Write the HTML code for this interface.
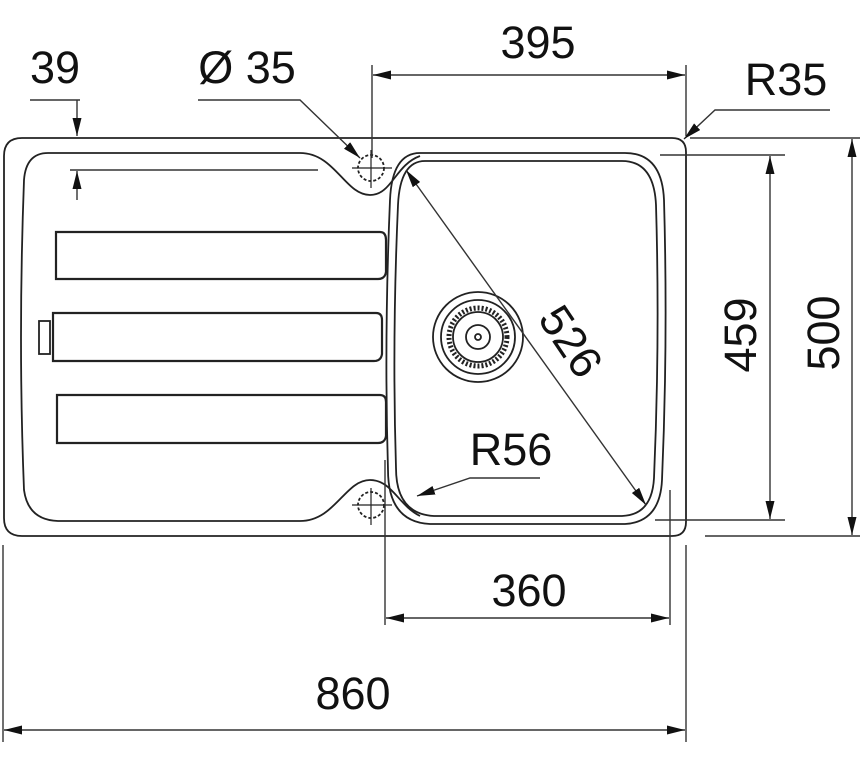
<!DOCTYPE html>
<html><head><meta charset="utf-8"><style>
html,body{margin:0;padding:0;background:#fff;}
svg{display:block;}
text{font-family:"Liberation Sans",Arial,sans-serif;font-size:45px;fill:#111;}
</style></head><body>
<svg width="860" height="759" viewBox="0 0 860 759" xmlns="http://www.w3.org/2000/svg">
<defs>
<marker id="a" viewBox="0 0 18 9" refX="18" refY="4.5" markerWidth="18" markerHeight="9" orient="auto-start-reverse" markerUnits="userSpaceOnUse"><path d="M0,0 L18,4.5 L0,9 z" fill="#111"/></marker>
</defs>
<g fill="none" stroke="#222" stroke-width="1.8">
<path d="M22,138 H672 Q686,138 686,152 V522 Q686,536 672,536 H22 Q4,536 4,518 V156 Q4,138 22,138 Z"/>
<path d="M48,153 H300 C335,153 345,195 370,195 C392,195 395,165 420,156"/>
<path d="M48,153 Q26,153 24,180 Q18,340 24,490 Q28,520 58,521 H300 C335,521 345,480 370,480 C392,480 398,505 420,516"/>
<path d="M420,153 H625 Q662,153 664,200 Q668,340 662,480 Q660,522 625,524 H430 Q388,522 388,470 Q384,340 390,200 Q392,153 420,153 Z"/>
<path d="M425,161 H622 Q654,161 656,205 Q660,340 654,478 Q652,515 622,516 H434 Q396,514 396,468 Q392,340 398,205 Q400,161 425,161 Z"/>
<path d="M56,232 H380 Q386,232 386,240 V272 Q385,279 378,279 H56 Z" stroke-width="2.2"/>
<path d="M53,313 H376 Q382,313 382,320 V354 Q381,361 374,361 H53 Z" stroke-width="2.2"/>
<path d="M57,395 H380 Q386,395 386,402 V436 Q385,443 378,443 H57 Z" stroke-width="2.2"/>
<rect x="39" y="321" width="11" height="33"/>
<circle cx="478" cy="337" r="45"/>
<circle cx="478" cy="337" r="37"/>
<circle cx="478" cy="337" r="29" stroke-dasharray="2 2" stroke-width="5"/>
<circle cx="478" cy="337" r="25"/>
<circle cx="478" cy="337" r="12"/>
<circle cx="478" cy="337" r="3"/>
<circle cx="371" cy="168" r="13" stroke-dasharray="3 2"/>
<path d="M352,168 H392 M371,150 V188" stroke-width="1.2"/>
<circle cx="371" cy="505" r="13" stroke-dasharray="3 2"/>
<path d="M352,505 H392 M371,488 V525" stroke-width="1.2"/>
</g>
<g fill="none" stroke="#333" stroke-width="1.4">
<path d="M30,100 H80"/>
<path d="M77,100 V136" marker-end="url(#a)"/>
<path d="M77,200 V171" marker-end="url(#a)"/>
<path d="M70,170 H318"/>
<path d="M198,100 H300 L360,158" marker-end="url(#a)"/>
<path d="M372,65 V158 M686,65 V136"/>
<path d="M373,75 H685" marker-start="url(#a)" marker-end="url(#a)"/>
<path d="M830,110 H715 L684,139" marker-end="url(#a)"/>
<path d="M660,155 H785 M655,520 H785"/>
<path d="M770,156 V519" marker-start="url(#a)" marker-end="url(#a)"/>
<path d="M690,138 H860 M705,536 H860"/>
<path d="M852,139 V535" marker-start="url(#a)" marker-end="url(#a)"/>
<path d="M406,170 L646,505" marker-start="url(#a)" marker-end="url(#a)"/>
<path d="M540,478 H470 L417,496" marker-end="url(#a)"/>
<path d="M385,460 V625 M670,490 V625"/>
<path d="M386,618 H669" marker-start="url(#a)" marker-end="url(#a)"/>
<path d="M3,545 V742 M686,545 V742"/>
<path d="M4,730 H685" marker-start="url(#a)" marker-end="url(#a)"/>
</g>
<text x="55" y="83" text-anchor="middle">39</text>
<text x="247" y="83" text-anchor="middle">Ø 35</text>
<text x="538" y="58" text-anchor="middle">395</text>
<text x="786" y="95" text-anchor="middle">R35</text>
<text x="511" y="465" text-anchor="middle">R56</text>
<text x="529" y="606" text-anchor="middle">360</text>
<text x="353" y="709" text-anchor="middle">860</text>
<text transform="translate(756,335) rotate(-90)" text-anchor="middle">459</text>
<text transform="translate(839,333) rotate(-90)" text-anchor="middle">500</text>
<text transform="translate(558,350) rotate(56)" text-anchor="middle">526</text>
</svg>
</body></html>
